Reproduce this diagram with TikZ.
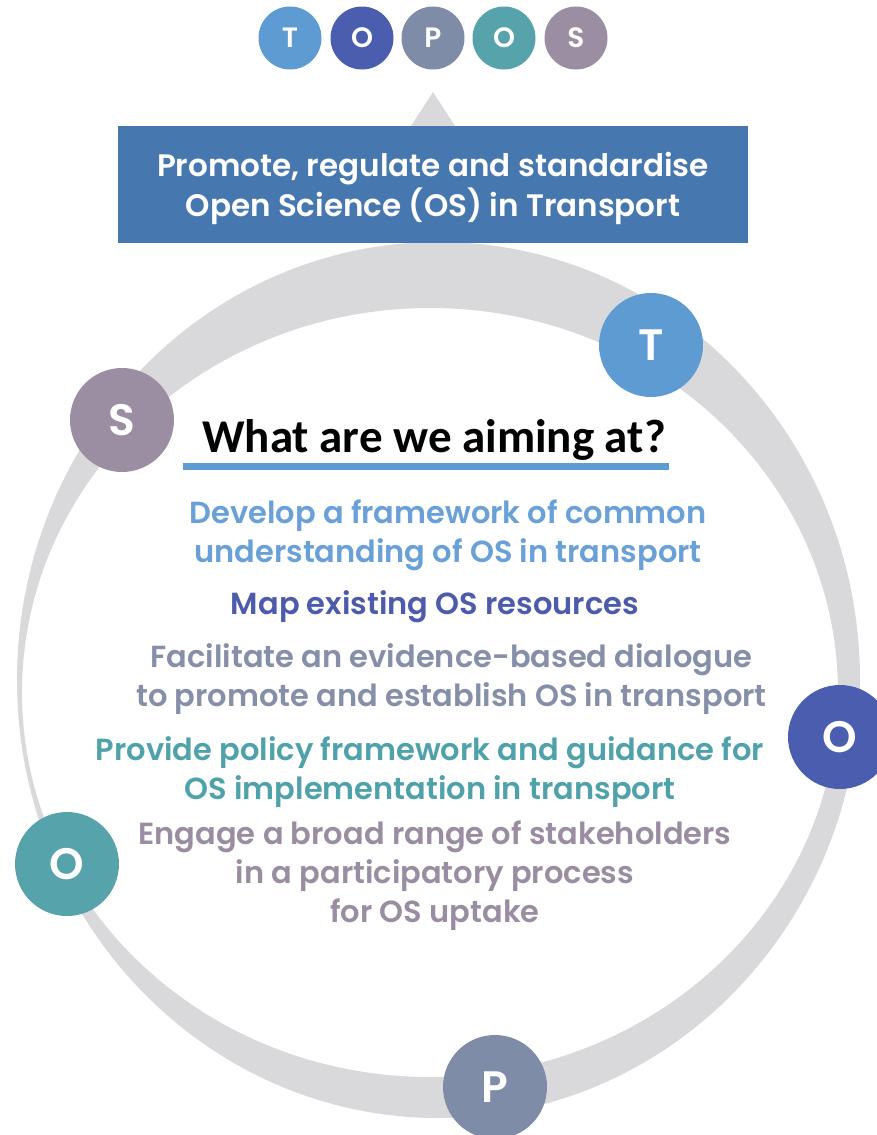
\documentclass[tikz,border=0pt]{standalone}
\usepackage{fontspec}
\setmainfont{Poppins}[BoldFont={Poppins SemiBold}]
\newfontfamily\headfont{Carlito}
\usetikzlibrary{shapes}
\definecolor{ringgrey}{HTML}{D9D9DC}
\definecolor{boxblue}{HTML}{4677AF}
\definecolor{tblue}{HTML}{5E9BD2}
\definecolor{oblue}{HTML}{4A5DAE}
\definecolor{pgrey}{HTML}{7F8CA7}
\definecolor{oteal}{HTML}{57A3AB}
\definecolor{smauve}{HTML}{9C8EA2}
\definecolor{aimone}{HTML}{6AA0D8}
\definecolor{aimtwo}{HTML}{4C5BAA}
\definecolor{aimthree}{HTML}{868FA9}
\definecolor{aimfour}{HTML}{4FA2AA}
\definecolor{aimfive}{HTML}{9B8DA1}

\begin{document}
\begin{tikzpicture}[x=1pt,y=-1pt,
  bigletter/.style={circle,fill=#1,text=white,inner sep=0pt,minimum size=104pt,
    font=\bfseries\fontsize{44}{44}\selectfont},
  smallletter/.style={circle,fill=#1,text=white,inner sep=0pt,minimum size=63pt,
    font=\bfseries\fontsize{28}{28}\selectfont},
  aimtext/.style={text=#1,align=center,inner sep=0pt,
    font=\bfseries\fontsize{30.5}{39}\selectfont}]

  \useasboundingbox (0,0) rectangle (877,1135);

  % Ring
  \fill[ringgrey,even odd rule]
    (438.5,680) ellipse [x radius=421.5pt,y radius=438pt]
    (430,692.5) ellipse [x radius=408pt,y radius=384.5pt];

  % Pointer up to the acronym
  \fill[ringgrey] (433,92)--(503,200)--(363,200)--cycle;

  % Acronym
  \node[smallletter=tblue] (topT) at (290,38) {T};
  \node[smallletter=oblue] (topO) at (362,38) {O};
  \node[smallletter=pgrey] (topP) at (433,38) {P};
  \node[smallletter=oteal] (topOO) at (504,38) {O};
  \node[smallletter=smauve] (topS) at (576,38) {S};

  % Goal box
  \node[fill=boxblue,minimum width=630pt,minimum height=117pt] (goal) at (433,184.5) {};
  \node[text=white,align=center,font=\bfseries\fontsize{31}{40}\selectfont]
    (goaltext) at (433,188.5) {Promote, regulate and standardise\\Open Science (OS) in Transport};

  % Letters on the ring
  \node[bigletter=tblue] (ringT) at (651,345) {T};
  \node[bigletter=oblue] (ringO) at (840,737) {O};
  \node[bigletter=pgrey] (ringP) at (495,1087) {P};
  \node[bigletter=oteal] (ringOO) at (67,864) {O};
  \node[bigletter=smauve] (ringS) at (122,420) {S};

  % Heading
  \node[font=\headfont\bfseries\fontsize{47}{47}\selectfont] (aimhead) at (434,440) {What are we aiming at?};
  \draw[tblue,line width=7pt] (183,466)--(669,466);

  % Aims
  \node[aimtext=aimone] (aimframe) at (448,535) {Develop a framework of common\\understanding of OS in transport};
  \node[aimtext=aimtwo] (aimmap) at (435,607) {Map existing OS resources};
  \node[aimtext=aimthree] (aimdialogue) at (451.5,679.5) {Facilitate an evidence-based dialogue\\to promote and establish OS in transport};
  \node[aimtext=aimfour] (aimpolicy) at (430,772.5) {Provide policy framework and guidance for\\OS implementation in transport};
  \node[aimtext=aimfive] (aimengage) at (435,876) {Engage a broad range of stakeholders\\in a participatory process\\for OS uptake};

\end{tikzpicture}
\end{document}
